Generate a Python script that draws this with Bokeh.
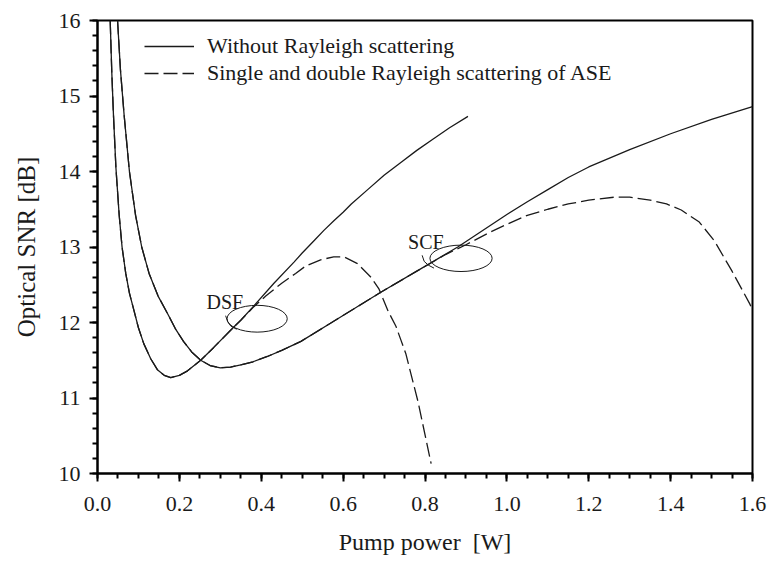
from bokeh.plotting import figure
from bokeh.models import FixedTicker, Legend, LegendItem, Range1d
from bokeh.core.properties import value
from bokeh.embed import file_html
from bokeh.resources import INLINE

# ---------------- data ----------------
# DSF, without Rayleigh scattering (solid)
dsf_x = [0.031, 0.035, 0.039, 0.045, 0.053, 0.060, 0.069, 0.078, 0.089, 0.100, 0.113,
         0.130, 0.147, 0.163, 0.179, 0.200, 0.220, 0.252, 0.284, 0.333, 0.350,
         0.382, 0.431, 0.480, 0.500, 0.530, 0.553, 0.578, 0.600, 0.620, 0.660,
         0.700, 0.741, 0.780, 0.820, 0.860, 0.905]
dsf_y = [16.0, 15.3, 14.75, 14.05, 13.42, 13.0, 12.65, 12.39, 12.16, 11.93, 11.72,
         11.52, 11.37, 11.30, 11.27, 11.30, 11.36, 11.50, 11.67, 11.94, 12.03,
         12.22, 12.52, 12.80, 12.92, 13.09, 13.22, 13.35, 13.46, 13.57, 13.76,
         13.95, 14.12, 14.28, 14.43, 14.58, 14.73]

# DSF, single and double Rayleigh scattering of ASE (dashed)
dsf_r_x = [0.031, 0.035, 0.039, 0.045, 0.053, 0.060, 0.069, 0.078, 0.089, 0.100, 0.113,
           0.130, 0.147, 0.163, 0.179, 0.200, 0.220, 0.252, 0.284, 0.333, 0.350,
           0.382, 0.411, 0.450, 0.484, 0.509, 0.545, 0.577, 0.602, 0.635, 0.668,
           0.687, 0.710, 0.729, 0.741, 0.753, 0.783, 0.815]
dsf_r_y = [16.0, 15.3, 14.75, 14.05, 13.42, 13.0, 12.65, 12.39, 12.16, 11.93, 11.72,
           11.52, 11.37, 11.30, 11.27, 11.30, 11.36, 11.50, 11.67, 11.94, 12.03,
           12.21, 12.35, 12.52, 12.65, 12.75, 12.83, 12.87, 12.87, 12.78, 12.60,
           12.45, 12.15, 11.95, 11.77, 11.59, 10.95, 10.13]

# SCF, without Rayleigh scattering (solid)
scf_x = [0.049, 0.056, 0.065, 0.078, 0.093, 0.108, 0.126, 0.148, 0.171, 0.190, 0.210,
         0.230, 0.252, 0.275, 0.300, 0.325, 0.350, 0.380, 0.415, 0.450, 0.497,
         0.578, 0.692, 0.780, 0.880, 1.000, 1.050, 1.100, 1.150, 1.200, 1.300,
         1.400, 1.500, 1.600]
scf_y = [16.0, 15.35, 14.75, 14.0, 13.42, 13.0, 12.65, 12.35, 12.12, 11.92, 11.75,
         11.61, 11.50, 11.43, 11.40, 11.41, 11.44, 11.48, 11.55, 11.63, 11.75,
         12.02, 12.40, 12.68, 13.00, 13.43, 13.60, 13.76, 13.92, 14.06, 14.29,
         14.50, 14.69, 14.86]

# SCF, single and double Rayleigh scattering of ASE (dashed)
scf_r_x = [0.049, 0.056, 0.065, 0.078, 0.093, 0.108, 0.126, 0.148, 0.171, 0.190, 0.210,
           0.230, 0.252, 0.275, 0.300, 0.325, 0.350, 0.380, 0.415, 0.450, 0.497,
           0.578, 0.692, 0.780, 0.850, 0.900, 0.960, 1.000, 1.050, 1.100, 1.150,
           1.200, 1.263, 1.300, 1.350, 1.390, 1.426, 1.470, 1.507, 1.549, 1.593,
           1.600]
scf_r_y = [16.0, 15.35, 14.75, 14.0, 13.42, 13.0, 12.65, 12.35, 12.12, 11.92, 11.75,
           11.61, 11.50, 11.43, 11.40, 11.41, 11.44, 11.48, 11.55, 11.63, 11.75,
           12.02, 12.40, 12.68, 12.90, 13.03, 13.20, 13.30, 13.42, 13.50, 13.57,
           13.62, 13.66, 13.66, 13.62, 13.57, 13.49, 13.33, 13.08, 12.69, 12.25,
           12.17]

x_ticks = [0.0, 0.2, 0.4, 0.6, 0.8, 1.0, 1.2, 1.4, 1.6]
x_tick_labels = ["0.0", "0.2", "0.4", "0.6", "0.8", "1.0", "1.2", "1.4", "1.6"]
y_ticks = [10, 11, 12, 13, 14, 15, 16]
y_tick_labels = ["10", "11", "12", "13", "14", "15", "16"]
x_minor = [round(i * 0.05, 2) for i in range(33)]
y_minor = [round(10 + i * 0.2, 1) for i in range(31)]

series_labels = ["Without Rayleigh scattering",
                 "Single and double Rayleigh scattering of ASE"]

# annotations: fibre names and encircling loops
ann_text = ["DSF", "SCF"]
ann_text_x = [0.311, 0.802]
ann_text_y = [12.27, 13.06]
loop_x = [0.390, 0.888]
loop_y = [12.05, 12.85]
loop_w = [0.147, 0.152]
loop_h = [0.355, 0.350]
hook_dsf_x = [0.313, 0.318, 0.326, 0.340]
hook_dsf_y = [12.09, 12.01, 11.95, 11.91]
hook_scf_x = [0.793, 0.798, 0.808, 0.822]
hook_scf_y = [12.89, 12.81, 12.76, 12.72]

FONT = "Liberation Serif"
INK = "#1a1a1a"

p = figure(width=769, height=562, output_backend="svg", toolbar_location=None,
           x_range=Range1d(0.0, 1.6), y_range=Range1d(10, 16),
           min_border_left=97, min_border_right=17, min_border_top=20,
           min_border_bottom=89)
p.grid.visible = False
p.background_fill_color = "white"
p.border_fill_color = "white"
p.outline_line_color = "black"
p.outline_line_width = 2

sol_dsf = p.line(dsf_x, dsf_y, line_color=INK, line_width=1.3)
p.line(scf_x, scf_y, line_color=INK, line_width=1.3)
das_dsf = p.line(dsf_r_x, dsf_r_y, line_color=INK, line_width=1.3, line_dash="14 5")
p.line(scf_r_x, scf_r_y, line_color=INK, line_width=1.3, line_dash="14 5")

p.ellipse(x=loop_x, y=loop_y, width=loop_w, height=loop_h,
          fill_color=None, line_color=INK, line_width=1.0)
p.line(hook_dsf_x, hook_dsf_y, line_color=INK, line_width=1.0)
p.line(hook_scf_x, hook_scf_y, line_color=INK, line_width=1.0)
p.text(x=ann_text_x, y=ann_text_y, text=ann_text, text_font=value(FONT),
       text_font_size="20px", text_color=INK, text_align="center",
       text_baseline="middle")

# axes
xa = p.xaxis[0]
ya = p.yaxis[0]
xa.ticker = FixedTicker(ticks=x_ticks, minor_ticks=x_minor)
ya.ticker = FixedTicker(ticks=y_ticks, minor_ticks=y_minor)
for ax in (xa, ya):
    ax.axis_line_color = "black"
    ax.axis_line_width = 2
    ax.major_tick_line_color = "black"
    ax.major_tick_line_width = 2
    ax.minor_tick_line_color = "black"
    ax.minor_tick_line_width = 2
    ax.major_tick_in = 0
    ax.major_tick_out = 8
    ax.minor_tick_in = 0
    ax.minor_tick_out = 5
    ax.major_label_text_font = FONT
    ax.major_label_text_font_size = "22px"
    ax.major_label_text_color = INK
    ax.axis_label_text_font = FONT
    ax.axis_label_text_font_style = "normal"
    ax.axis_label_text_color = INK

xa.axis_label_text_font_size = "24px"
ya.axis_label_text_font_size = "25px"
xa.major_label_overrides = {t: l for t, l in zip(x_ticks, x_tick_labels)}
ya.major_label_overrides = {t: l for t, l in zip(y_ticks, y_tick_labels)}
xa.axis_label = "Pump power\u00a0 [W]"
ya.axis_label = "Optical SNR [dB]"
xa.major_label_standoff = 15
ya.major_label_standoff = 9
xa.axis_label_standoff = 15
ya.axis_label_standoff = 16

legend = Legend(items=[LegendItem(label=series_labels[0], renderers=[sol_dsf]),
                       LegendItem(label=series_labels[1], renderers=[das_dsf])],
                location=(47, 387), padding=0, margin=0, spacing=1,
                glyph_width=50, glyph_height=26, label_height=26,
                label_standoff=13, border_line_color=None,
                background_fill_alpha=0, label_text_font=FONT,
                label_text_font_size="22px", label_text_color=INK)
p.add_layout(legend)

open("out.html", "w").write(file_html(p, INLINE))
